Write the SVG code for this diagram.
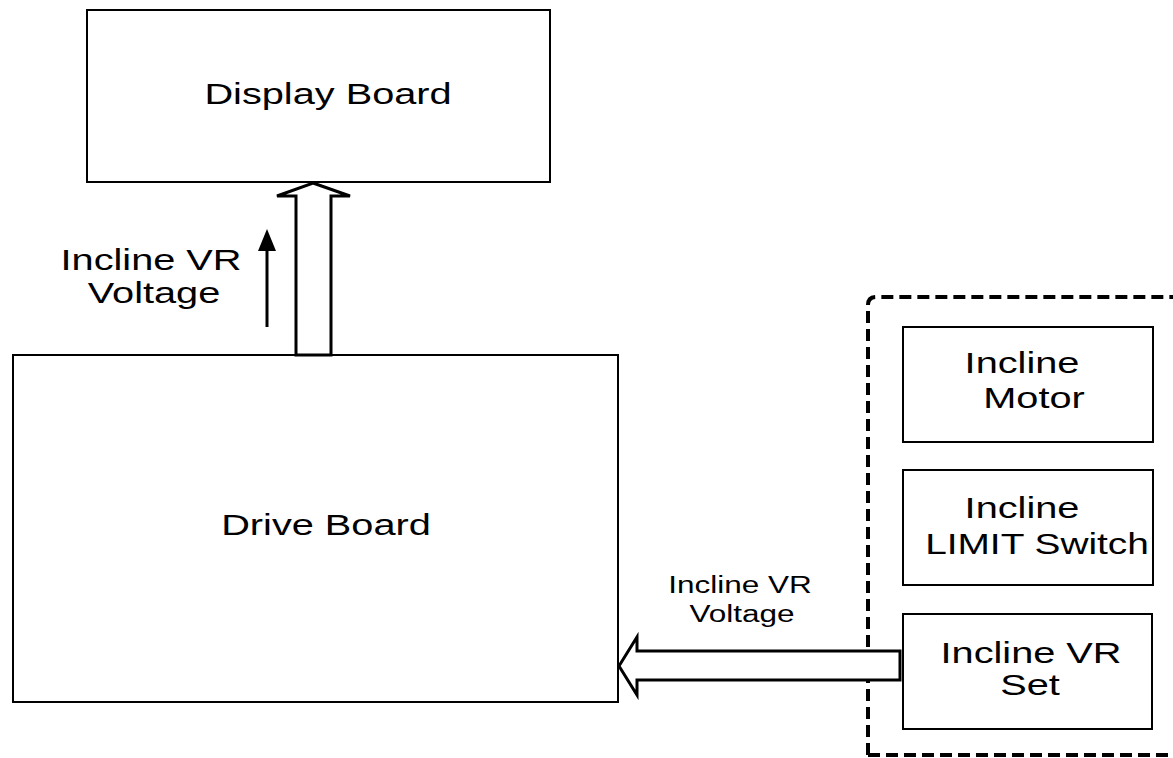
<svg xmlns="http://www.w3.org/2000/svg" width="1173" height="758" viewBox="0 0 1173 758">
<style>
.box{fill:#fff;stroke:#000;stroke-width:2}
.t{font-family:"Liberation Sans",Arial,sans-serif;font-size:29px;fill:#000;text-anchor:middle}
.s{font-family:"Liberation Sans",Arial,sans-serif;font-size:23px;fill:#000;text-anchor:middle}
.dash{fill:none;stroke:#000;stroke-width:4;stroke-dasharray:12,6}
.fat{fill:#fff;stroke:#000;stroke-width:3;stroke-linejoin:miter}
</style>
<g id="display-board">
<rect class="box" x="87" y="10" width="463" height="172"/>
<g transform="translate(328,104) scale(1.37,1)"><text class="t">Display Board</text></g>
</g>
<g id="drive-board">
<rect class="box" x="13" y="355" width="605" height="347"/>
<g transform="translate(326,535) scale(1.37,1)"><text class="t">Drive Board</text></g>
</g>
<g id="incline-group">
<path class="dash" d="M868,755 L868,305 Q868,297 876,297 L1173,297"/>
<path class="dash" d="M868,755 L1173,755"/>
</g>
<g id="incline-motor">
<rect class="box" x="903" y="327" width="250" height="115"/>
<g transform="translate(1022,373) scale(1.37,1)"><text class="t">Incline</text></g>
<g transform="translate(1034,408) scale(1.37,1)"><text class="t">Motor</text></g>
</g>
<g id="incline-limit">
<rect class="box" x="903" y="470" width="250" height="115"/>
<g transform="translate(1022,518) scale(1.37,1)"><text class="t">Incline</text></g>
<g transform="translate(1037,554) scale(1.34,1)"><text class="t">LIMIT Switch</text></g>
</g>
<g id="incline-vr-set">
<rect class="box" x="903" y="614" width="249" height="115"/>
<g transform="translate(1031,663) scale(1.37,1)"><text class="t">Incline VR</text></g>
<g transform="translate(1030,695) scale(1.37,1)"><text class="t">Set</text></g>
</g>
<g id="connectors">
<path class="fat" d="M313,183 L350,196 L331,196 L331,355 L296,355 L296,196 L277,196 Z"/>
<line x1="267" y1="327" x2="267" y2="240" stroke="#000" stroke-width="3"/>
<path d="M267,229 L276,251 L258,251 Z" fill="#000"/>
<path class="fat" d="M619,666 L637,637 L637,651 L900,651 L900,680 L637,680 L637,695 Z"/>
</g>
<g id="labels">
<g transform="translate(151,270) scale(1.37,1)"><text class="t">Incline VR</text></g>
<g transform="translate(154,303) scale(1.37,1)"><text class="t">Voltage</text></g>
<g transform="translate(740,593) scale(1.37,1)"><text class="s">Incline VR</text></g>
<g transform="translate(742,622) scale(1.37,1)"><text class="s">Voltage</text></g>
</g>
</svg>
